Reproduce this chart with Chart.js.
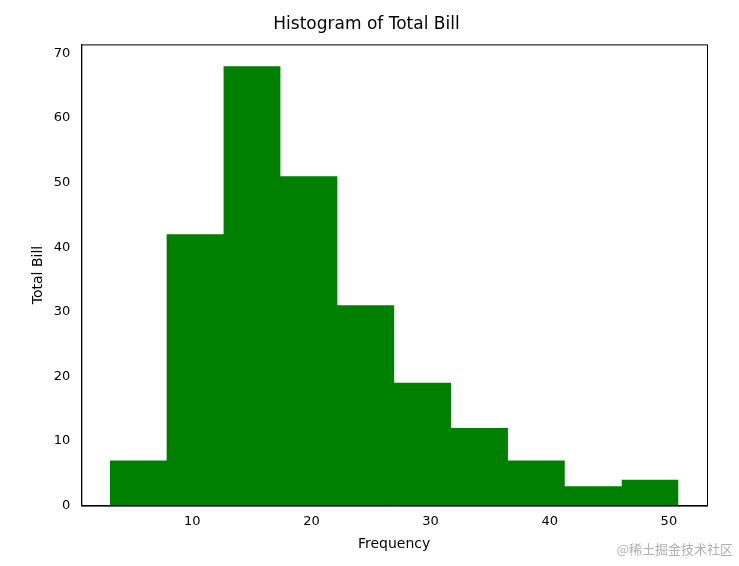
<!DOCTYPE html>
<html>
<head>
<meta charset="utf-8">
<script src="https://cdn.jsdelivr.net/npm/chart.js"></script>
<style>
  body { margin: 0; background: #fff; }
  #wrap { width: 739px; height: 566px; position: relative; }
  #mark { position: absolute; right: 6px; bottom: 8px; font: 13px "Noto Sans CJK SC", sans-serif; color: #b0b0b0; }
</style>
</head>
<body>
<div id="wrap"><canvas id="myChart" width="739" height="566"></canvas><div id="mark">@稀土掘金技术社区</div></div>
<script>
// bin edges and counts
const binEdges = [3.07, 7.84, 12.62, 17.39, 22.17, 26.94, 31.71, 36.49, 41.26, 46.04, 50.81];
const counts = [7, 42, 68, 51, 31, 19, 12, 7, 3, 4];
const xTicks = [10, 20, 30, 40, 50];

// each segment takes the height of its right-hand point
const points = binEdges.map((e, i) => ({ x: e, y: counts[Math.max(i - 1, 0)] }));

const frame = {
    id: 'frame',
    afterDraw(chart) {
        const a = chart.chartArea, ctx = chart.ctx;
        ctx.save();
        ctx.strokeStyle = '#000';
        ctx.lineWidth = 1;
        ctx.strokeRect(a.left + 0.5, a.top + 0.5, a.right - a.left, a.bottom - a.top);
        ctx.restore();
    }
};

const font = { family: 'DejaVu Sans', size: 13 };
new Chart(document.getElementById('myChart').getContext('2d'), {
    type: 'line',
    data: {
        datasets: [{
            data: points,
            stepped: 'after',
            fill: 'origin',
            backgroundColor: 'green',
            borderColor: 'green',
            borderWidth: 0,
            pointRadius: 0
        }]
    },
    options: {
        responsive: false,
        animation: false,
        layout: { padding: { left: 26, right: 32, top: 6, bottom: 9 } },
        plugins: {
            legend: { display: false },
            tooltip: { enabled: false },
            title: { display: true, text: 'Histogram of Total Bill', color: '#000', font: { family: 'DejaVu Sans', size: 17, weight: 'normal' }, padding: { top: 8, bottom: 10 } }
        },
        scales: {
            x: {
                type: 'linear', min: 0.68, max: 53.2,
                afterBuildTicks: s => { s.ticks = xTicks.map(v => ({ value: v })); },
                grid: { display: false, drawTicks: true, tickLength: 5 },
                border: { color: '#000' },
                ticks: { color: '#000', font },
                title: { display: true, text: 'Frequency', color: '#000', font: { family: 'DejaVu Sans', size: 14 } }
            },
            y: {
                min: 0, max: 71.4,
                afterBuildTicks: s => { s.ticks = [0, 10, 20, 30, 40, 50, 60, 70].map(v => ({ value: v })); },
                grid: { display: false },
                border: { color: '#000' },
                ticks: { color: '#000', font },
                title: { display: true, text: 'Total Bill', color: '#000', font: { family: 'DejaVu Sans', size: 14 } }
            }
        }
    },
    plugins: [frame]
});
</script>
</body>
</html>
